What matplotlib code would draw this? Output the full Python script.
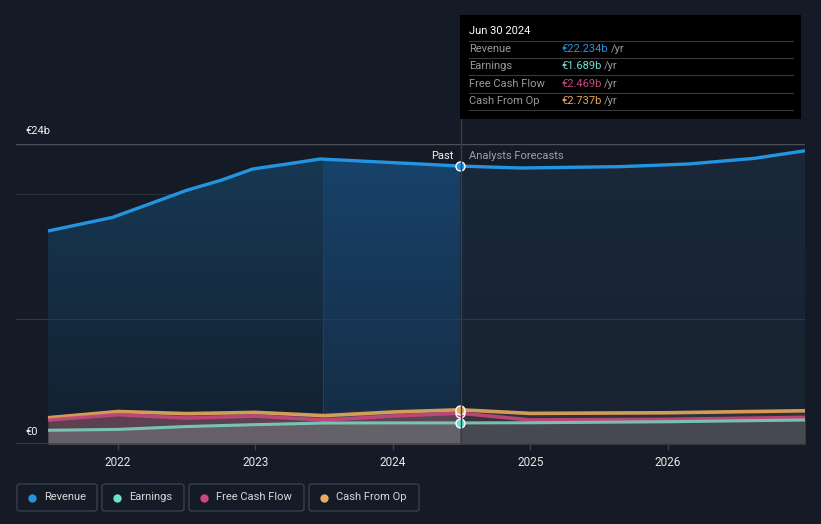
import matplotlib
matplotlib.use('Agg')
import matplotlib.pyplot as plt
import numpy as np
from matplotlib.patches import Rectangle, FancyBboxPatch
from matplotlib.lines import Line2D
from matplotlib.colors import LinearSegmentedColormap

plt.rcParams['font.family'] = ['Roboto', 'DejaVu Sans']

# ---------------- data ----------------
rev_past_x = [2021.49, 2021.96, 2022.24, 2022.5, 2022.75, 2022.98, 2023.23, 2023.47, 2023.76, 2024.2, 2024.49]
rev_past_y = [17.04, 18.13, 19.25, 20.3, 21.1, 22.0, 22.4, 22.8, 22.64, 22.4, 22.234]
rev_fc_x = [2024.49, 2024.93, 2025.66, 2026.15, 2026.63, 2027.0]
rev_fc_y = [22.234, 22.08, 22.19, 22.4, 22.85, 23.46]

small_past_x = [2021.49, 2022.0, 2022.5, 2023.0, 2023.5, 2024.0, 2024.49]
earn_past = [1.1, 1.17, 1.4, 1.55, 1.68, 1.69, 1.689]
fcf_past = [1.92, 2.35, 2.08, 2.24, 1.92, 2.24, 2.469]
cfo_past = [2.1, 2.6, 2.43, 2.53, 2.27, 2.56, 2.737]

small_fc_x = [2024.49, 2025.0, 2026.0, 2027.0]
earn_fc = [1.689, 1.70, 1.78, 1.92]
fcf_fc = [2.469, 1.92, 1.97, 2.13]
cfo_fc = [2.737, 2.45, 2.5, 2.66]

year_ticks = [2022, 2023, 2024, 2025, 2026]
year_labels = ['2022', '2023', '2024', '2025', '2026']

series_names = ['Revenue', 'Earnings', 'Free Cash Flow', 'Cash From Op']
series_values = ['€22.234b', '€1.689b', '€2.469b', '€2.737b']
tooltip_date = 'Jun 30 2024'

# ---------------- style ----------------
BG = '#151b26'
C_REV = '#2394df'
C_EARN = '#7fd8c4'
C_FCF = '#c8487f'
C_CFO = '#e8a95c'

W, H = 821, 524
fig = plt.figure(figsize=(W / 100, H / 100), dpi=100, facecolor=BG)

def fx(px):
    return px / W

def fy(py):
    return 1 - py / H

ax = fig.add_axes([fx(16), fy(444), fx(805) - fx(16), fy(144) - fy(444)])
ax.set_facecolor(BG)
xmin, xmax = 2021.257, 2027.0
ax.set_xlim(xmin, xmax)
ax.set_ylim(0, 24)
for s in ax.spines.values():
    s.set_visible(False)


def gradient_fill(xs, ys, top_col, bot_col, x0, x1, z):
    poly = ax.fill_between(xs, 0, ys, color='none', lw=0)
    cmap = LinearSegmentedColormap.from_list('g', [bot_col, top_col])
    grad = np.linspace(0, 1, 256).reshape(-1, 1)
    im = ax.imshow(grad, cmap=cmap, aspect='auto', origin='lower',
                   extent=[x0, x1, 0, max(ys)], zorder=z, interpolation='bilinear')
    path = poly.get_paths()[0]
    im.set_clip_path(path, transform=ax.transData)


# gridlines
ax.axhline(24, color='#4a4f58', lw=1.0, zorder=1)
ax.axhline(20, color='#2a313c', lw=0.8, zorder=1)

# revenue fills
gradient_fill(rev_past_x, rev_past_y, '#173853', '#13202f', rev_past_x[0], rev_past_x[-1], 2)
gradient_fill(rev_fc_x, rev_fc_y, '#1a2839', '#18222f', rev_fc_x[0], rev_fc_x[-1], 2)
hx = [2023.49] + [x for x in rev_past_x if x >= 2023.49]
hy = [22.79] + [y for x, y in zip(rev_past_x, rev_past_y) if x >= 2023.49]
gradient_fill(hx, hy, '#18426a', '#152b42', hx[0], hx[-1], 2.5)
ax.axvline(2023.49, ymax=22.8 / 24, color='#21405a', lw=0.8, zorder=3)
ax.axhline(10, color='#2a3a4b', lw=0.8, zorder=3.5)

# lower series fills
ax.fill_between(small_past_x, 0, cfo_past, color='#6b5550', alpha=0.55, lw=0, zorder=4)
ax.fill_between(small_past_x, 0, fcf_past, color='#7a4a5e', alpha=0.45, lw=0, zorder=4)
ax.fill_between(small_past_x, 0, earn_past, color='#6a6d72', alpha=0.7, lw=0, zorder=4)
ax.fill_between(small_fc_x, 0, cfo_fc, color='#35363d', alpha=0.85, lw=0, zorder=4)
ax.fill_between(small_fc_x, 0, fcf_fc, color='#48323f', alpha=0.5, lw=0, zorder=4)
ax.fill_between(small_fc_x, 0, earn_fc, color='#4a4e55', alpha=0.85, lw=0, zorder=4)
ax.axhline(0, color='#3c424c', lw=1.2, zorder=6)

# lines
kw = dict(solid_joinstyle='round', solid_capstyle='butt')
ax.plot(rev_past_x, rev_past_y, color=C_REV, lw=2.4, zorder=5, **kw)
ax.plot(rev_fc_x, rev_fc_y, color=C_REV, lw=2.4, zorder=5, **kw)
ax.plot(small_past_x, cfo_past, color=C_CFO, lw=2.6, alpha=0.9, zorder=5, **kw)
ax.plot(small_fc_x, cfo_fc, color=C_CFO, lw=2.6, alpha=0.9, zorder=5, **kw)
ax.plot(small_past_x, fcf_past, color=C_FCF, lw=2.6, alpha=0.9, zorder=5, **kw)
ax.plot(small_fc_x, fcf_fc, color=C_FCF, lw=2.6, alpha=0.9, zorder=5, **kw)
ax.plot(small_past_x, earn_past, color=C_EARN, lw=2.2, alpha=0.85, zorder=5, **kw)
ax.plot(small_fc_x, earn_fc, color=C_EARN, lw=2.2, alpha=0.85, zorder=5, **kw)

# markers at Jun 30 2024
mx = rev_past_x[-1]
for val, col in [(rev_past_y[-1], C_REV), (fcf_past[-1], C_FCF), (cfo_past[-1], C_CFO), (earn_past[-1], '#6fe0cf')]:
    ax.plot([mx], [val], 'o', ms=6.5, mfc=col, mec='white', mew=1.0, zorder=8)

# ticks
ax.set_xticks(year_ticks)
ax.set_xticklabels(year_labels)
ax.tick_params(axis='x', colors='#3c424c', length=4, width=1, labelcolor='#e6e6e6', labelsize=8.5, pad=5)
ax.set_yticks([])

# vertical divider
fig.add_artist(Line2D([fx(460.5), fx(460.5)], [fy(119), fy(444)], color='#33404f', lw=1.0, zorder=2))

# labels
fig.text(fx(25), fy(131), '€24b', color='#f0f0f0', fontsize=8, va='center', ha='left')
fig.text(fx(25), fy(432), '€0', color='#f0f0f0', fontsize=8, va='center', ha='left')
fig.text(fx(453), fy(156), 'Past', color='#f0f0f0', fontsize=8, va='center', ha='right')
fig.text(fx(469), fy(156), 'Analysts Forecasts', color='#9aa0a8', fontsize=8, va='center', ha='left')

# tooltip
fig.add_artist(Rectangle((fx(460), fy(119)), fx(801) - fx(460), fy(15) - fy(119),
                         transform=fig.transFigure, facecolor='#000000', edgecolor='none', zorder=10))
fig.text(fx(469), fy(31), tooltip_date, color='white', fontsize=8, va='center', ha='left', zorder=11)
row_y = [49, 66, 84, 101]
sep_y = [41, 58, 75, 93, 110]
for sy in sep_y:
    fig.add_artist(Line2D([fx(469), fx(793)], [fy(sy), fy(sy)], color='#3a3a3a', lw=0.8, zorder=11))
for ry, name, val, col in zip(row_y, series_names, series_values, [C_REV, '#6fe0cf', C_FCF, C_CFO]):
    fig.text(fx(469), fy(ry), name, color='#9a9a9a', fontsize=8, va='center', ha='left', zorder=11)
    t = fig.text(fx(561), fy(ry), val, color=col, fontsize=8, va='center', ha='left', zorder=11)
    fig.canvas.draw()
    bb = t.get_window_extent()
    fig.text(bb.x1 / W + fx(3), fy(ry), '/yr', color='#9a9a9a', fontsize=8, va='center', ha='left', zorder=11)

# legend boxes
boxes = [(17, 97), (102, 184), (189, 304), (309, 419)]
for (x0, x1), name, col in zip(boxes, series_names, [C_REV, '#6fe0cf', C_FCF, C_CFO]):
    fig.add_artist(FancyBboxPatch((fx(x0), fy(511)), fx(x1) - fx(x0), fy(484) - fy(511),
                                  boxstyle='round,pad=0,rounding_size=0.004', transform=fig.transFigure,
                                  facecolor='none', edgecolor='#3a404a', lw=1.0))
    fig.add_artist(Line2D([fx(x0 + 15)], [fy(497.5)], marker='o', ms=6, color=col, mec='none'))
    fig.text(fx(x0 + 27), fy(497.5), name, color='#d8d8d8', fontsize=8, va='center', ha='left')

fig.savefig('out.png', dpi=100, facecolor=BG)
